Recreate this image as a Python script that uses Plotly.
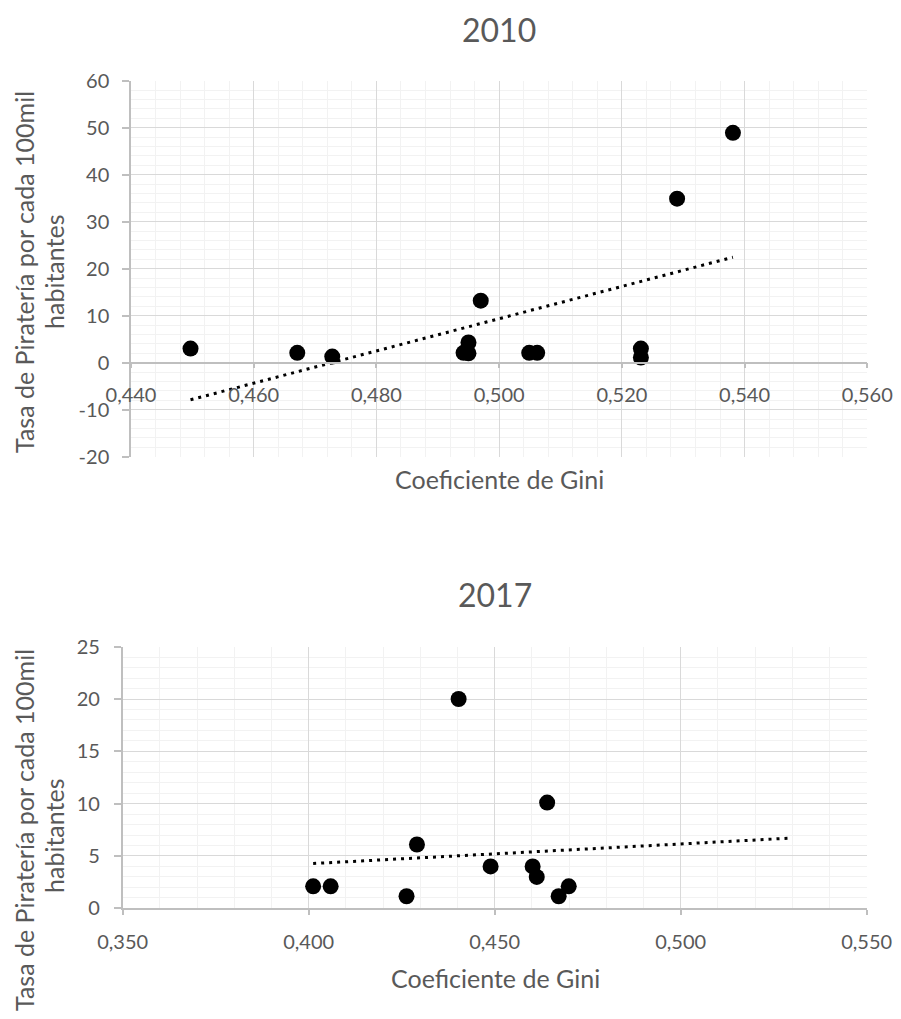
import numpy as np
import plotly.graph_objects as go

# ---- data: 2010 ----
gini_2010 = [0.4497, 0.4671, 0.4728, 0.4942, 0.4950, 0.4950, 0.4970,
             0.5049, 0.5062, 0.5231, 0.5231, 0.5290, 0.5381]
tasa_2010 = [3.0, 2.1, 1.3, 2.1, 2.0, 4.3, 13.2,
             2.1, 2.1, 3.0, 1.1, 34.9, 48.9]

# ---- data: 2017 ----
gini_2017 = [0.4012, 0.4059, 0.4263, 0.4291, 0.4403, 0.4489,
             0.4602, 0.4613, 0.4641, 0.4672, 0.4699]
tasa_2017 = [2.1, 2.1, 1.15, 6.1, 20.0, 4.0,
             4.0, 3.0, 10.1, 1.15, 2.1]
trend_end_2017 = 0.530

# ---- axis ticks ----
x_ticks_2010 = [0.44, 0.46, 0.48, 0.50, 0.52, 0.54, 0.56]
y_ticks_2010 = [-20, -10, 0, 10, 20, 30, 40, 50, 60]
y_text_2010 = ["-20", "-10", "0", "10", "20", "30", "40", "50", "60"]
x_ticks_2017 = [0.35, 0.40, 0.45, 0.50, 0.55]
y_ticks_2017 = [0, 5, 10, 15, 20, 25]

title_2010 = "2010"
title_2017 = "2017"
x_title = "Coeficiente de Gini"
y_title_line1 = "Tasa de Piratería por cada 100mil"
y_title_line2 = "habitantes"

FONT = "Lato"
TXT = "#595959"
GRID = "#d9d9d9"
MINOR = "#f2f2f2"
LINE = "#bfbfbf"

# linear trendlines (least squares)
m1, b1 = np.polyfit(gini_2010, tasa_2010, 1)
tx1 = np.array([min(gini_2010), max(gini_2010)])
m2, b2 = np.polyfit(gini_2017, tasa_2017, 1)
tx2 = np.array([min(gini_2017), trend_end_2017])

fig = go.Figure()
dot_style = dict(color="black", width=3, dash="3px,5px")
fig.add_trace(go.Scatter(x=tx1, y=m1 * tx1 + b1, mode="lines", line=dot_style,
                         xaxis="x", yaxis="y", hoverinfo="skip"))
fig.add_trace(go.Scatter(x=gini_2010, y=tasa_2010, mode="markers",
                         marker=dict(color="black", size=16),
                         xaxis="x", yaxis="y"))
fig.add_trace(go.Scatter(x=tx2, y=m2 * tx2 + b2, mode="lines", line=dot_style,
                         xaxis="x2", yaxis="y2", hoverinfo="skip"))
fig.add_trace(go.Scatter(x=gini_2017, y=tasa_2017, mode="markers",
                         marker=dict(color="black", size=16),
                         xaxis="x2", yaxis="y2"))

OFF = 8  # page body margin
W, H = 901 - OFF, 1019 - OFF
# plot areas in page pixels
p1 = dict(l=131, r=867.3, t=80.7, b=456.7)
p2 = dict(l=122.7, r=866.7, t=646.7, b=908.3)

def xd(p):
    return [(p["l"] - OFF) / W, (p["r"] - OFF) / W]

def yd(p):
    return [1 - (p["b"] - OFF) / H, 1 - (p["t"] - OFF) / H]

yd1 = yd(p1)
zero_pos = yd1[0] + (0 - (-20)) / 80 * (yd1[1] - yd1[0])

tickfont = dict(family=FONT, size=20, color=TXT)
common = dict(showgrid=True, gridcolor=GRID, gridwidth=1,
              showline=True, linecolor=LINE, linewidth=1.5,
              ticks="outside", tickcolor=LINE, tickwidth=1.5,
              tickfont=tickfont, zeroline=False, automargin=False)

fig.update_layout(
    width=W, height=H,
    margin=dict(l=0, r=0, t=0, b=0, pad=0, autoexpand=False),
    paper_bgcolor="white", plot_bgcolor="white",
    showlegend=False,
    separators=",.",
    font=dict(family=FONT, color=TXT),
    xaxis=dict(domain=xd(p1), range=[0.44, 0.56], tickvals=x_ticks_2010,
               tickformat=".3f", anchor="free", position=zero_pos, ticklen=5,
               ticklabelstandoff=10,
               minor=dict(dtick=0.004, tick0=0.44, showgrid=True, gridcolor=MINOR, ticklen=0),
               **common),
    yaxis=dict(domain=yd1, range=[-20, 60], tickvals=y_ticks_2010, ticktext=y_text_2010,
               anchor="x", ticklen=7, ticklabelstandoff=9,
               minor=dict(dtick=2, tick0=0, showgrid=True, gridcolor=MINOR, ticklen=0),
               **common),
    xaxis2=dict(domain=xd(p2), range=[0.35, 0.55], tickvals=x_ticks_2017,
                tickformat=".3f", anchor="y2", ticklen=5, ticklabelstandoff=10,
                minor=dict(dtick=0.01, tick0=0.35, showgrid=True, gridcolor=MINOR, ticklen=0),
                **common),
    yaxis2=dict(domain=yd(p2), range=[0, 25], tickvals=y_ticks_2017,
                anchor="x2", ticklen=7, ticklabelstandoff=10,
                minor=dict(dtick=1, tick0=0, showgrid=True, gridcolor=MINOR, ticklen=0),
                **common),
)

def ann(text, x, y, size, angle=0):
    fig.add_annotation(text=text, x=(x - OFF) / W, y=1 - (y - OFF) / H,
                       xref="paper", yref="paper", borderpad=0,
                       showarrow=False, textangle=angle, xanchor="center", yanchor="middle",
                       font=dict(family=FONT, size=size, color=TXT))

ann(title_2010, 499, 29, 32)
ann(title_2017, 495, 594, 32)
ann(x_title, 499, 479, 25)
ann(x_title, 495, 978, 25)
ann(y_title_line1, 24, 272, 25, -90)
ann(y_title_line2, 54, 272, 25, -90)
ann(y_title_line1, 24, 830, 25, -90)
ann(y_title_line2, 54, 836, 25, -90)

fig.write_html("out.html")
